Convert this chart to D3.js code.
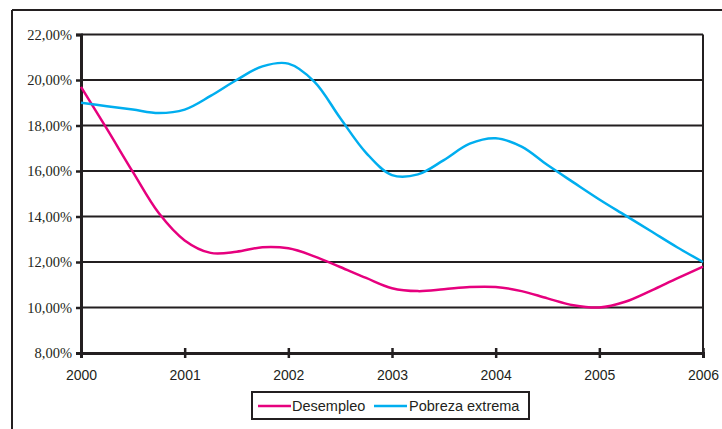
<!DOCTYPE html>
<html><head><meta charset="utf-8">
<script src="https://cdn.jsdelivr.net/npm/d3@7"></script>
<style>body{margin:0;background:#fff}</style>
</head><body>
<svg id="c" width="722" height="429"></svg>
<script>
const periods = [2000,2000.25,2000.5,2000.75,2001,2001.25,2001.5,2001.75,2002,2002.25,2002.5,2002.75,2003,2003.25,2003.5,2003.75,2004,2004.25,2004.5,2004.75,2005,2005.25,2005.5,2005.75,2006];
const desempleo = [19.7,17.85,15.96,14.15,12.95,12.4,12.45,12.65,12.6,12.25,11.78,11.3,10.85,10.72,10.8,10.9,10.9,10.72,10.4,10.1,10.0,10.25,10.74,11.28,11.8];
const pobreza = [19.0,18.85,18.7,18.55,18.7,19.3,20.0,20.6,20.72,19.93,18.33,16.8,15.82,15.85,16.48,17.2,17.44,17.07,16.26,15.5,14.75,14.05,13.35,12.65,12.0];
const yearTicks = [2000,2001,2002,2003,2004,2005,2006];
const yTicks = [8,10,12,14,16,18,20,22];
const seriesNames = ["Desempleo","Pobreza extrema"];
const seriesColors = ["#E6007E","#00AEEF"];

const svg = d3.select("#c");
const ink = "#231f20";
// outer frame
svg.append("line").attr("x1",12).attr("x2",722).attr("y1",10).attr("y2",10).attr("stroke",ink).attr("stroke-width",2);
svg.append("line").attr("x1",12).attr("x2",12).attr("y1",10).attr("y2",429).attr("stroke",ink).attr("stroke-width",2);

const x = d3.scaleLinear().domain([2000,2006]).range([81,703]);
const y = d3.scaleLinear().domain([8,22]).range([353,34.5]);

// gridlines
svg.append("g").selectAll("line").data(yTicks).join("line")
  .attr("x1",x(2000)).attr("x2",x(2006)).attr("y1",d=>y(d)).attr("y2",d=>y(d))
  .attr("stroke",ink).attr("stroke-width",2);
// right border
svg.append("line").attr("x1",x(2006)).attr("x2",x(2006)).attr("y1",y(22)).attr("y2",y(8)).attr("stroke",ink).attr("stroke-width",2);

// y axis
const yAxis = svg.append("g").attr("transform",`translate(${x(2000)},0)`)
  .call(d3.axisLeft(y).tickValues(yTicks).tickSize(5).tickPadding(4)
    .tickFormat(d=>d3.format(".2f")(d).replace(".",",")+"%"));
yAxis.select(".domain").attr("stroke",ink).attr("stroke-width",3);
yAxis.selectAll(".tick line").attr("stroke",ink).attr("stroke-width",2.5);
yAxis.selectAll("text").attr("font-family","'Liberation Serif','Times New Roman',serif").attr("font-size",14.5).attr("fill",ink);

// x axis
const xAxis = svg.append("g").attr("transform",`translate(0,${y(8)})`)
  .call(d3.axisBottom(x).tickValues(yearTicks).tickFormat(d3.format("d")).tickSize(5).tickPadding(12));
xAxis.select(".domain").attr("stroke",ink).attr("stroke-width",3);
xAxis.selectAll(".tick line").attr("stroke",ink).attr("stroke-width",2.5).attr("y1",-5);
xAxis.selectAll("text").attr("font-family","'Liberation Sans',Arial,sans-serif").attr("font-size",14).attr("fill",ink);

// lines
const line = d3.line().x((d,i)=>x(periods[i])).y(d=>y(d)).curve(d3.curveCatmullRom.alpha(0.5));
[desempleo,pobreza].forEach((s,k)=>{
  svg.append("path").datum(s).attr("d",line).attr("fill","none").attr("stroke",seriesColors[k]).attr("stroke-width",2.5);
});

// legend
const lg = svg.append("g");
lg.append("rect").attr("x",252).attr("y",392).attr("width",277).attr("height",27).attr("fill","#fff").attr("stroke",ink).attr("stroke-width",2);
const items = [{lx:258,tx:292},{lx:374,tx:409}];
items.forEach((it,k)=>{
  lg.append("line").attr("x1",it.lx).attr("x2",it.lx+33).attr("y1",406).attr("y2",406).attr("stroke",seriesColors[k]).attr("stroke-width",2.5);
  lg.append("text").attr("x",it.tx).attr("y",411).text(seriesNames[k])
    .attr("font-family","'Liberation Sans',Arial,sans-serif").attr("font-size",14.5).attr("fill",ink);
});
</script>
</body></html>
